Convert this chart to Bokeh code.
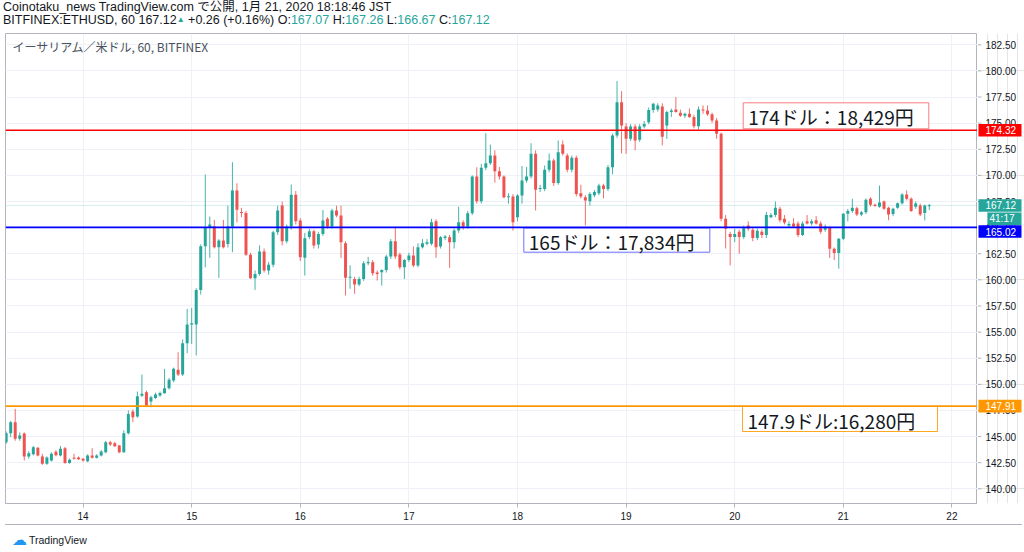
import numpy as np
from bokeh.plotting import figure
from bokeh.layouts import column, row
from bokeh.models import (Range1d, FixedTicker, Label, Span, ColumnDataSource, Div, Grid)
from bokeh.embed import file_html
from bokeh.resources import INLINE
from bokeh.core.properties import value

# ---------------- data ----------------
# hours since 2020-01-13 00:00 JST (1-hour candles)
hours = list(range(7, 212))
opens = [144.46,145.32,146.38,144.78,145.30,143.09,143.30,143.92,143.10,142.39,142.70,143.54,143.19,143.89,142.48,142.98,143.00,142.87,142.64,143.19,
         142.96,143.19,143.50,144.46,144.36,144.14,143.50,145.32,147.40,146.92,148.90,149.25,148.35,148.70,148.93,149.15,149.63,150.36,151.40,150.94,
         153.94,155.72,155.72,159.04,163.22,165.00,165.10,163.13,163.76,163.44,165.10,168.55,166.50,166.40,162.40,160.16,160.57,162.71,160.89,161.44,
         164.56,167.12,163.70,165.10,168.14,165.68,162.11,164.10,164.66,163.38,164.40,165.84,165.10,166.63,166.16,163.50,160.19,160.09,159.55,160.09,
         161.59,161.69,160.70,160.73,160.95,162.23,163.70,162.42,161.21,161.91,162.33,161.37,163.12,163.45,163.45,165.62,163.19,164.00,164.08,163.60,
         164.72,165.52,165.10,166.38,169.89,167.53,170.72,171.17,171.90,170.40,169.90,167.90,167.98,165.99,168.07,169.51,169.89,172.06,168.70,168.70,
         170.53,171.42,169.26,172.96,171.90,170.53,171.68,168.30,167.90,167.53,168.10,168.30,169.03,168.70,170.78,173.82,177.01,174.68,173.50,174.68,
         173.40,174.68,175.09,176.27,176.30,176.60,174.78,176.06,176.30,176.00,175.70,175.90,175.60,174.70,176.30,176.20,175.85,175.26,173.98,165.85,
         164.40,164.10,164.60,164.10,165.20,164.80,164.00,164.60,164.30,166.00,166.20,166.80,165.85,165.20,165.40,165.40,164.30,165.60,165.40,165.70,
         165.40,164.80,165.00,162.97,162.56,163.93,166.32,166.60,166.86,166.26,166.48,167.76,167.18,167.00,167.50,166.90,166.30,166.90,167.34,168.17,
         167.76,167.00,167.12,166.40,167.07]
highs = [145.50,146.50,147.65,145.40,145.40,143.60,144.10,144.00,143.35,143.10,143.50,143.70,144.10,144.00,142.90,143.35,143.10,142.95,143.30,143.89,
         143.30,143.70,144.60,144.60,144.50,144.20,145.60,147.50,147.60,149.31,150.94,149.40,148.90,149.20,149.30,151.48,150.60,151.60,153.07,154.30,
         157.22,157.30,159.20,163.40,170.08,166.06,165.74,163.90,165.74,167.10,171.26,169.25,166.90,166.60,162.60,160.90,163.30,163.00,161.70,164.70,
         167.10,167.50,165.30,169.13,168.50,165.90,164.50,164.90,164.80,164.60,166.70,166.00,166.80,167.10,167.10,163.70,161.40,160.30,160.30,161.80,
         162.20,161.90,160.90,161.00,162.40,163.90,165.10,162.60,162.00,162.60,163.20,163.50,163.90,163.90,165.85,165.80,164.20,164.30,164.30,164.90,
         167.00,165.70,166.60,170.00,170.78,171.10,174.04,172.95,172.40,170.80,170.00,168.30,168.20,168.20,170.90,170.80,173.08,172.40,169.10,170.95,
         172.10,171.60,173.34,173.34,172.10,171.90,171.90,169.10,168.10,168.40,168.60,169.20,169.20,171.00,174.00,179.02,178.06,175.00,174.90,174.90,
         174.90,175.20,176.50,176.95,176.90,176.90,176.20,176.40,177.50,176.30,176.00,176.40,175.80,176.60,176.70,176.70,176.00,175.50,174.10,166.20,
         164.60,164.90,164.80,165.20,165.60,165.00,164.90,164.80,166.50,166.40,167.50,167.00,166.20,165.60,165.90,165.60,165.60,166.20,165.80,166.10,
         165.60,165.30,165.10,163.10,164.00,166.40,166.80,167.76,167.00,166.60,167.80,167.90,167.30,169.03,167.60,167.00,166.90,167.40,168.30,168.56,
         167.90,167.50,167.30,167.20,167.26]
lows = [144.30,144.94,144.60,144.60,142.71,142.90,143.20,143.10,142.30,142.30,142.60,143.10,143.10,142.40,142.40,142.80,142.75,142.60,142.55,142.90,
        142.90,143.10,143.40,144.10,144.00,143.40,143.45,145.20,146.38,146.80,148.80,147.90,147.81,148.60,148.80,149.10,149.50,150.20,150.80,150.80,
        152.98,153.87,152.76,158.60,161.20,162.10,163.00,160.19,163.00,163.10,162.65,165.50,166.00,162.30,160.10,159.04,160.40,160.70,160.50,161.20,
        164.30,163.30,163.50,164.80,165.30,161.80,160.41,163.90,163.00,163.00,164.20,164.90,164.90,166.00,162.10,158.50,159.14,158.66,159.40,159.90,
        161.40,160.40,159.93,159.45,160.70,162.00,162.00,161.00,160.09,161.70,161.20,161.20,163.00,163.30,163.30,162.10,163.00,163.80,161.15,163.00,
        164.50,164.80,164.90,166.20,167.30,167.30,170.50,171.00,169.30,169.60,167.80,167.30,164.72,165.60,167.30,169.30,169.70,166.64,168.40,168.50,
        170.30,169.00,169.10,171.90,170.30,170.30,168.00,167.80,165.20,167.10,167.90,168.10,167.80,168.50,170.10,173.60,172.10,172.06,173.30,172.40,
        173.20,174.50,174.90,176.00,176.10,172.87,173.50,175.60,176.00,175.60,175.50,175.50,174.50,174.40,175.90,175.70,175.00,173.50,165.60,163.00,
        161.38,163.60,162.50,163.90,164.70,163.70,163.80,164.00,164.00,165.90,166.00,165.50,165.30,165.00,165.00,164.10,164.20,165.30,165.20,165.30,
        164.40,164.60,162.10,161.90,161.06,163.80,165.60,166.40,166.10,166.10,166.30,167.00,167.00,166.90,166.70,165.70,166.10,166.80,167.20,167.60,
        166.50,166.80,166.10,165.68,166.67]
closes = [145.32,146.38,144.78,145.10,143.09,143.40,143.98,143.19,142.39,143.00,143.35,143.22,143.83,142.48,142.77,142.87,142.83,142.71,143.19,142.96,
          143.19,143.57,144.46,144.24,144.08,143.50,145.32,147.17,146.85,148.87,149.10,147.97,148.77,149.03,149.18,149.63,150.43,151.48,150.94,153.94,
          155.72,155.85,159.04,163.22,165.04,165.30,163.13,163.76,163.13,165.10,168.55,166.70,166.40,162.40,160.16,160.57,162.71,160.89,161.44,164.56,
          166.64,163.70,165.10,168.14,165.62,162.17,163.99,164.66,163.29,164.40,165.68,165.10,166.64,166.16,163.60,160.19,160.30,159.55,160.09,161.59,
          161.70,160.64,160.57,160.95,162.23,163.70,162.23,161.21,161.91,162.33,161.37,163.12,163.51,163.60,165.52,163.12,164.08,164.15,163.60,164.72,
          165.52,165.10,166.38,169.89,167.53,170.72,171.17,171.90,170.40,169.90,167.90,168.00,165.52,168.07,169.51,169.89,172.06,168.62,168.80,170.53,
          171.42,169.26,172.22,172.06,170.53,171.68,168.23,167.98,167.60,168.23,168.40,169.03,168.70,170.78,173.82,177.01,174.78,173.50,174.68,173.34,
          174.68,174.93,176.27,176.85,176.70,173.70,176.06,176.20,176.06,175.70,175.90,175.60,174.70,176.30,176.20,175.85,175.26,173.98,165.85,164.90,
          164.10,164.40,164.10,165.00,164.90,164.00,164.70,164.30,166.20,166.20,166.90,165.70,165.50,165.35,165.10,164.30,165.40,165.40,165.60,165.40,
          164.60,165.10,162.97,162.56,163.93,166.32,166.58,166.90,166.26,166.48,167.66,167.18,167.08,167.40,166.80,166.26,166.80,167.34,168.17,167.76,
          166.58,167.30,166.26,167.12,167.12]

day_ticks = [24, 48, 72, 96, 120, 144, 168, 192, 216]
day_labels = ["14", "15", "16", "17", "18", "19", "20", "21", "22"]
price_ticks = [140.0, 142.5, 145.0, 147.5, 150.0, 152.5, 155.0, 157.5, 160.0,
               162.5, 165.0, 167.5, 170.0, 172.5, 175.0, 177.5, 180.0, 182.5]

level_prices = [174.32, 165.02, 147.91]
level_colors = ["#ff0000", "#0000ff", "#ff9800"]
note_texts = ["174ドル：18,429円", "165ドル：17,834円", "147.9ドル:16,280円"]
last_price = 167.12
countdown = "41:17"
header_line1 = "Coinotaku_news TradingView.com で公開, 1月 21, 2020 18:18:46 JST"
symbol_text = "BITFINEX:ETHUSD, 60 167.12"
change_text = "+0.26 (+0.16%)"
ohlc_names = ["O:", "H:", "L:", "C:"]
ohlc_values = ["167.07", "167.26", "166.67", "167.12"]
pane_title = "イーサリアム／米ドル, 60, BITFINEX"

# ---------------- geometry (window pixels) ----------------
W = 1024
HEAD_H = 33           # header strip
FIG_H = 491           # chart pane incl. time scale
FOOT_H = 552 - HEAD_H - FIG_H
FL, FR, FT, FB = 5, 977, 33, 503
SCALE_W = W - FR
PXH = 4.525      # px per hour
PXU = 10.447     # px per dollar
X0 = hours[0] - 0.67 / PXH
X1 = X0 + (FR - FL) / PXH
Y1 = 182.5 + (44.3 - FT) / PXU
Y0 = Y1 - (FB - FT) / PXU


def dx(px):
    return X0 + (px - FL) / PXH


def dy(py):
    return Y1 - (py - FT) / PXU


UP, DN = "#26a69a", "#ef5350"
FONT = "Liberation Sans"
JFONT = "Noto Sans CJK JP"
INK = "#131722"
EDGE = "#b2b5be"

p = figure(width=FR, height=FIG_H, output_backend="svg", toolbar_location=None,
           x_range=Range1d(X0, X1), y_range=Range1d(Y0, Y1), y_axis_location=None,
           min_border_left=FL, min_border_right=0, min_border_top=0,
           min_border_bottom=FIG_H - (FB - FT), background_fill_color="white",
           border_fill_color="white")
p.margin = 0
p.outline_line_color = EDGE

# grid
p.xgrid.ticker = FixedTicker(ticks=day_ticks)
p.xgrid.grid_line_color = "#eef1f7"
p.add_layout(Grid(dimension=1, ticker=FixedTicker(ticks=price_ticks),
                  grid_line_color="#eef1f7"))

# time axis
xa = p.xaxis[0]
xa.ticker = FixedTicker(ticks=day_ticks)
xa.major_label_overrides = {t: l for t, l in zip(day_ticks, day_labels)}
xa.major_label_text_font_size = "10px"
xa.major_label_text_font = FONT
xa.major_label_text_color = INK
xa.axis_line_color = EDGE
xa.major_tick_line_color = EDGE
xa.major_tick_out = 4
xa.major_tick_in = 0
xa.minor_tick_out = 0
xa.minor_tick_in = 0
xa.major_label_standoff = 4

# candles
o = np.array(opens); c = np.array(closes)
col = [UP if cc >= oo else DN for oo, cc in zip(o, c)]
top = np.maximum(o, c)
bot = np.minimum(o, c)
mid = (top + bot) / 2
small = (top - bot) < 0.1
top = np.where(small, mid + 0.05, top)
bot = np.where(small, mid - 0.05, bot)
src = ColumnDataSource(dict(x=hours, h=highs, l=lows, top=top, bot=bot, col=col))
p.segment(x0="x", y0="h", x1="x", y1="l", line_color="col", line_alpha=0.85,
          line_width=1, source=src)
p.vbar(x="x", width=0.66, top="top", bottom="bot", fill_color="col",
       line_color=None, source=src)

# horizontal levels
p.add_layout(Span(location=last_price, dimension="width", line_color=UP,
                  line_alpha=0.35, line_width=1, line_dash="1 1"))
for lp, lc in zip(level_prices, level_colors):
    p.add_layout(Span(location=lp, dimension="width", line_color=lc, line_width=1.6))

# note boxes
boxes = [(742.7, 928.3, 102.3, 128.3, "#f77c80"),
         (523.3, 709.3, 227.5, 251.7, "#6f6fff"),
         (742.0, 937.0, 406.0, 431.0, "#ffa726")]
for (l, r, t, b, bc), txt in zip(boxes, note_texts):
    p.quad(left=[dx(l)], right=[dx(r)], top=[dy(t)], bottom=[dy(b)],
           fill_color="white", line_color=bc, line_width=1)
    p.add_layout(Label(x=dx(l + 5), y=dy((t + b) / 2 + 1), text=txt, text_font=JFONT,
                       text_font_size="19px", text_color=INK,
                       text_baseline="middle", text_align="left"))

# pane title inside the chart
p.add_layout(Label(x=dx(12), y=dy(46), text=pane_title, text_font=JFONT,
                   text_font_size="12px", text_color="#4c525e",
                   text_baseline="middle", text_align="left"))

# ---------------- right price scale (shares the price range) ----------------
sc = figure(width=SCALE_W, height=FIG_H, output_backend="svg", toolbar_location=None,
            x_range=Range1d(0, SCALE_W), y_range=p.y_range, x_axis_location=None,
            y_axis_location=None, min_border_left=0, min_border_right=0,
            min_border_top=0, min_border_bottom=FIG_H - (FB - FT),
            background_fill_color="white", border_fill_color="white")
sc.margin = 0
sc.outline_line_color = None
sc.segment(x0=0, x1=4, y0=price_ticks, y1=price_ticks, line_color=EDGE, line_width=1)
sc.text(x=8, y=price_ticks, text=[f"{t:.2f}" for t in price_ticks],
        text_font=value(FONT), text_font_size="10px", text_color=INK,
        text_baseline="middle", text_align="left")

tag_x = [1, 1, 10, 1, 1]
tag_y = [level_prices[0], last_price, dy(218.3), dy(231.0), level_prices[2]]
tag_txt = [f"{level_prices[0]:.2f}", f"{last_price:.2f}", countdown,
           f"{level_prices[1]:.2f}", f"{level_prices[2]:.2f}"]
tag_bg = [level_colors[0], UP, UP, level_colors[1], level_colors[2]]
half = 6.3 / PXU
sc.quad(left=tag_x, right=[44] * 5, top=[y + half for y in tag_y],
        bottom=[y - half for y in tag_y], fill_color=tag_bg, line_color=None)
sc.text(x=[x + 7 if x == 1 else x + 2 for x in tag_x], y=tag_y, text=tag_txt,
        text_font=value(FONT), text_font_size="10px", text_color="white",
        text_baseline="middle", text_align="left")

# header (HTML text)
sp = lambda t, clr: f'<span style="color:{clr}">{t}</span>'
line2 = (f"{symbol_text}" + f'<span style="color:{UP};font-size:8px;vertical-align:2px">▲</span> '
         + change_text + " " +
         " ".join(n + sp(v, UP) for n, v in zip(ohlc_names, ohlc_values)))
header = Div(text=f"{header_line1}<br>{line2}", width=W, height=HEAD_H, margin=0,
             styles={"font-family": f"'{FONT}', '{JFONT}'", "font-size": "12.5px",
                     "line-height": "11.5px", "color": INK, "padding": "2px 0 0 3px",
                     "white-space": "nowrap", "overflow": "hidden",
                     "box-sizing": "border-box"})
footer = Div(text=(f'<span style="font-family:\'DejaVu Sans\';font-size:15px;color:#2196f3;'
                   f'vertical-align:middle;margin-right:2px">☁</span>'
                   f'<span style="vertical-align:middle">TradingView</span>'),
             width=W, height=FOOT_H, margin=0,
             styles={"font-family": f"'{FONT}'", "font-size": "10.5px", "color": INK,
                     "line-height": "14px", "padding": "7px 0 0 7px",
                     "white-space": "nowrap", "box-sizing": "border-box",
                     "overflow": "hidden", "border-top": f"1px solid {EDGE}",
                     "margin-left": "5px", "width": "1017px"})

layout = column(header, row(p, sc, spacing=0, margin=0), footer, spacing=0, margin=0)
open("out.html", "w").write(file_html(layout, INLINE))
